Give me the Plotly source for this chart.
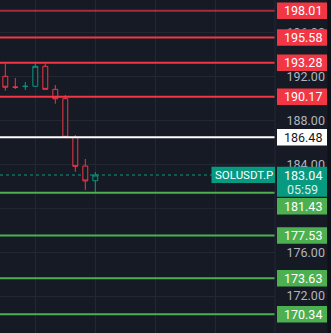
import plotly.graph_objects as go

# ---- data ----
bar_index = [0, 1, 2, 3, 4, 5, 6, 7, 8, 9]
opens  = [192.04, 191.06, 191.10, 191.13, 192.95, 190.85, 190.00, 186.47, 183.86, 182.52]
highs  = [193.22, 191.88, 191.52, 193.31, 193.22, 191.24, 190.33, 186.69, 184.50, 183.31]
lows   = [190.73, 190.88, 190.79, 191.10, 190.85, 189.54, 186.45, 183.34, 181.67, 181.49]
closes = [191.04, 191.04, 191.13, 192.95, 190.85, 189.99, 186.48, 183.83, 182.50, 183.04]

resistance_levels = [198.01, 195.58, 193.28, 190.17]
pivot_level = [186.48]
support_levels = [181.43, 177.53, 173.63, 170.34]
last_price = 183.04
countdown = "05:59"
symbol = "SOLUSDT.P"
tick_values = [172, 176, 184, 188, 192, 196]
grid_values = [172, 176, 180, 184, 188, 192, 196]

# ---- style ----
BG = "#161A25"
GRID = "#232734"
RED = "#F23645"
GREEN = "#4CAF50"
TEAL = "#089981"
FONT = "Roboto"
PW = 275.0  # plot width in px

fig = go.Figure()
fig.add_trace(go.Candlestick(
    x=bar_index, open=opens, high=highs, low=lows, close=closes,
    increasing=dict(line=dict(color=TEAL, width=1), fillcolor=BG),
    decreasing=dict(line=dict(color=RED, width=1), fillcolor=BG),
    whiskerwidth=0, showlegend=False, hoverinfo="skip",
))

shapes = []
annotations = []

def px(xpix):
    return xpix / PW

def level_label(price, fill, txt_color, text, shift=0.0, h=16.5):
    shapes.append(dict(type="rect", xref="paper", yref="y", layer="above",
                       x0=px(277), x1=px(327), ysizemode="pixel", yanchor=price,
                       y0=-h / 2 + shift, y1=h / 2 + shift,
                       fillcolor=fill, line=dict(width=0)))
    annotations.append(dict(xref="paper", yref="y", x=px(302.5), y=price,
                            yshift=shift, xanchor="center", yanchor="middle",
                            text=text, showarrow=False,
                            font=dict(family=FONT, size=12.5, color=txt_color)))

# horizontal grid at 180 (its tick label is hidden behind the price boxes)
for g in grid_values:
    if g not in tick_values:
        shapes.append(dict(type="line", xref="paper", yref="y", layer="below",
                           x0=0, x1=1, y0=g, y1=g, line=dict(color=GRID, width=1)))

# price line (dotted) between grid and candles
shapes.append(dict(type="line", xref="paper", yref="y", layer="between",
                   x0=0, x1=1, y0=last_price, y1=last_price,
                   line=dict(color=TEAL, width=1, dash="dot")))

for i, lv in enumerate(resistance_levels):
    col = "rgba(242,54,69,0.65)" if i == 0 else RED
    shapes.append(dict(type="line", xref="paper", yref="y", layer="above",
                       x0=0, x1=1, y0=lv, y1=lv, line=dict(color=col, width=2)))
for lv in pivot_level:
    shapes.append(dict(type="line", xref="paper", yref="y", layer="above",
                       x0=0, x1=1, y0=lv, y1=lv, line=dict(color="#FFFFFF", width=2)))
for lv in support_levels:
    shapes.append(dict(type="line", xref="paper", yref="y", layer="above",
                       x0=0, x1=1, y0=lv, y1=lv, line=dict(color=GREEN, width=2)))

# right axis border
shapes.append(dict(type="line", xref="paper", yref="paper", layer="above",
                   x0=1, x1=1, y0=0, y1=1, line=dict(color="#232734", width=1)))
# far-right strip
shapes.append(dict(type="rect", xref="paper", yref="paper", layer="above",
                   x0=px(327.5), x1=px(331), y0=0, y1=1,
                   fillcolor="#0E1118", line=dict(width=0)))

for lv in resistance_levels:
    level_label(lv, RED, "#FFFFFF", f"{lv:.2f}")
for lv in pivot_level:
    level_label(lv, "#FFFFFF", "#131722", f"{lv:.2f}")
for i, lv in enumerate(support_levels):
    level_label(lv, GREEN, "#FFFFFF", f"{lv:.2f}", shift=-13.5 if i == 0 else 0)

# last price box (two lines)
shapes.append(dict(type="rect", xref="paper", yref="y", layer="above",
                   x0=px(277), x1=px(327), ysizemode="pixel", yanchor=last_price,
                   y0=-21.8, y1=8.3, fillcolor=TEAL, line=dict(width=0)))
annotations.append(dict(xref="paper", yref="y", x=px(302.5), y=last_price,
                        xanchor="center", yanchor="middle", text=f"{last_price:.2f}",
                        showarrow=False, font=dict(family=FONT, size=12.5, color="#FFFFFF")))
annotations.append(dict(xref="paper", yref="y", x=px(302.5), y=last_price, yshift=-14.5,
                        xanchor="center", yanchor="middle", text=countdown,
                        showarrow=False, font=dict(family=FONT, size=12.5, color="#D7F0EA")))
# symbol box
shapes.append(dict(type="rect", xref="paper", yref="y", layer="above",
                   x0=px(211.5), x1=px(275), ysizemode="pixel", yanchor=last_price,
                   y0=-8, y1=8.3, fillcolor=TEAL, line=dict(width=0)))
annotations.append(dict(xref="paper", yref="y", x=px(243.5), y=last_price,
                        xanchor="center", yanchor="middle", text=symbol,
                        showarrow=False, font=dict(family=FONT, size=11.5, color="#FFFFFF")))

ymax = 198.995
ymin = 168.637

fig.update_layout(
    width=331, height=333, autosize=False,
    margin=dict(l=0, r=56, t=0, b=0, pad=0),
    paper_bgcolor=BG, plot_bgcolor=BG,
    shapes=shapes, annotations=annotations,
    xaxis=dict(range=[-0.53, 26.97], showticklabels=False, showgrid=True,
               gridcolor=GRID, gridwidth=1, tick0=3, dtick=6, zeroline=False,
               rangeslider=dict(visible=False), fixedrange=True, showline=False),
    yaxis=dict(range=[ymin, ymax], side="right", tickvals=tick_values,
               tickformat=".2f", showgrid=True, gridcolor=GRID, gridwidth=1,
               zeroline=False, ticks="outside", ticklen=8, tickcolor=BG,
               tickfont=dict(family=FONT, size=12.5, color="#B2B5BE"),
               fixedrange=True, showline=False),
    showlegend=False,
)

fig.write_html("out.html", config={"displayModeBar": False})
